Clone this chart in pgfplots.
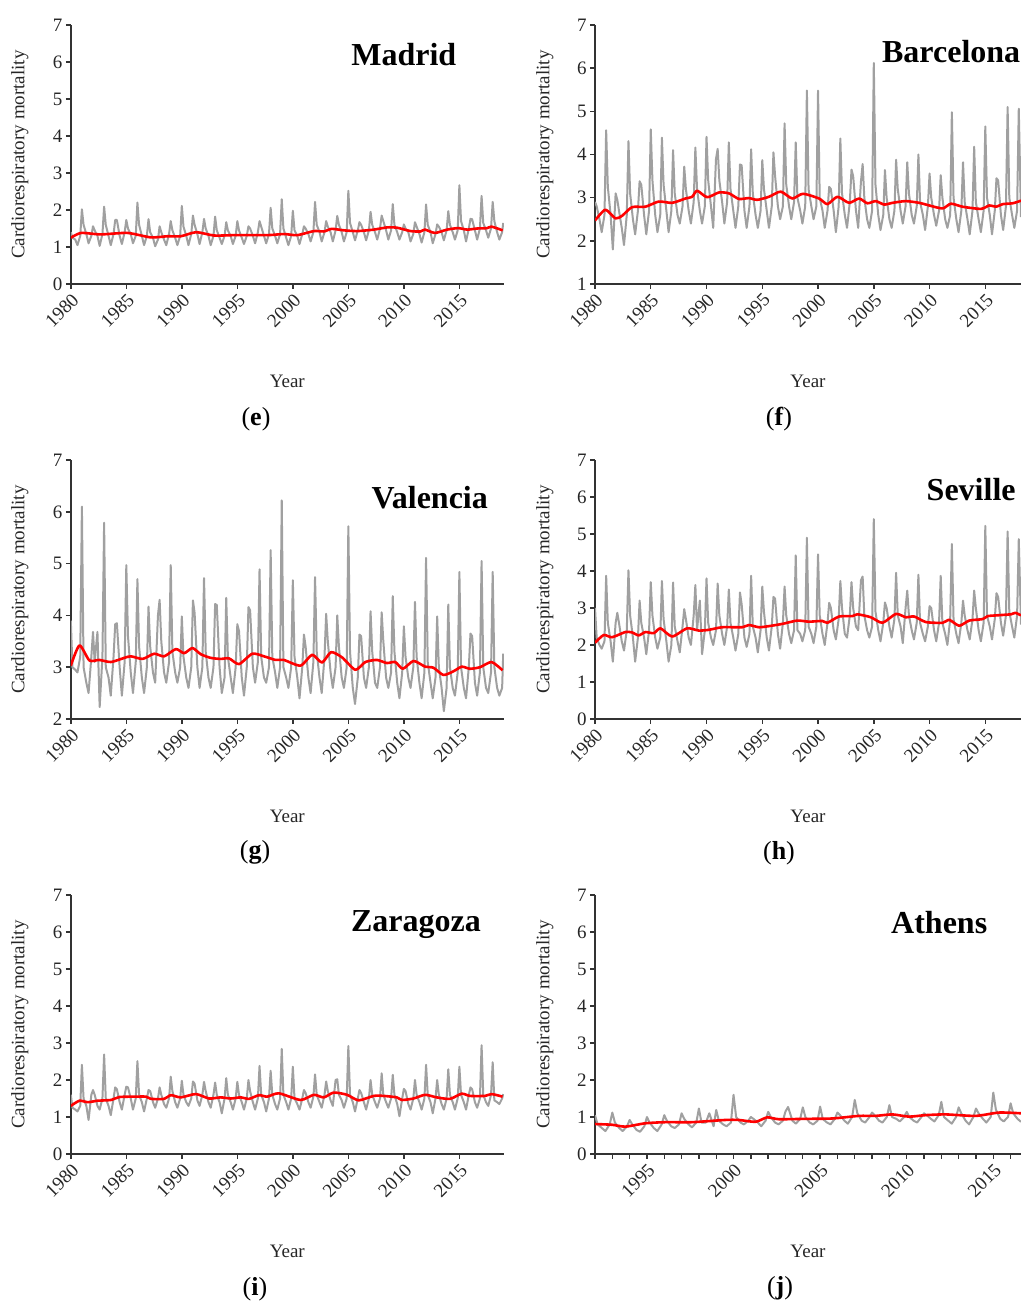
\documentclass[border=0pt]{standalone}
\usepackage{fontspec}
\setmainfont{Liberation Serif}
\usepackage{pgfplots}
\pgfplotsset{compat=1.18}
\definecolor{serie}{HTML}{A0A0A0}
\definecolor{trend}{HTML}{FF0000}
\definecolor{axc}{HTML}{333333}

\pgfplotsset{
  panel/.style={
    scale only axis, height=129.5pt,
    axis x line*=bottom, axis y line*=left,
    axis line style={axc, line width=0.8pt},
    tick style={axc, line width=0.7pt},
    tick align=outside, major tick length=2.5pt, minor tick length=2.5pt,
    ymax=7, xtick={1980,1985,...,2015},
    /pgf/number format/1000 sep={},
    /pgf/number format/assume math mode=true,
    tick label style={font=\fontsize{9.5}{10}\selectfont, text=black!85},
    x tick label style={rotate=45, anchor=north east, inner sep=1pt},
    y tick label style={inner sep=1.5pt},
    xlabel={Year}, ylabel={Cardiorespiratory mortality},
    label style={font=\fontsize{9.5}{10}\selectfont, text=black!85},
    xlabel style={at={(axis description cs:0.5,-0.40)}, anchor=base},
    ylabel style={at={(axis description cs:-0.118,0.5)}, anchor=center},
    clip mode=individual,
  },
  grayline/.style={serie, line width=1pt, line join=round},
  redline/.style={trend, line width=1.3pt, line join=round, smooth, tension=0.4},
}
\tikzset{city/.style={font=\fontsize{16}{18}\selectfont\bfseries}}

\begin{document}
\begin{tikzpicture}
\useasboundingbox (0pt,0pt) rectangle (510.5pt,651pt);

% (e) Madrid
\begin{axis}[panel, at={(35.4pt,509pt)}, anchor=south west, width=216.5pt,
  xmin=1980, xmax=2019, ymin=0, ytick={0,...,7}]
\addplot[grayline] coordinates {
(1980,1.40)(1980.15,1.25)(1980.4,1.2)(1980.6,1.05)(1980.85,1.3)
(1981,2.02)(1981.15,1.6)(1981.4,1.35)(1981.6,1.1)(1981.85,1.3)
(1982,1.56)(1982.15,1.45)(1982.4,1.3)(1982.6,1.03)(1982.85,1.35)
(1983,2.09)(1983.15,1.6)(1983.4,1.3)(1983.6,1.05)(1983.85,1.35)
(1984,1.73)(1984.15,1.73)(1984.4,1.3)(1984.6,1.08)(1984.85,1.4)
(1985,1.73)(1985.15,1.5)(1985.4,1.35)(1985.6,1.1)(1985.85,1.3)
(1986,2.2)(1986.15,1.6)(1986.4,1.3)(1986.6,1.05)(1986.85,1.3)
(1987,1.75)(1987.15,1.4)(1987.4,1.25)(1987.6,1.02)(1987.85,1.2)
(1988,1.56)(1988.15,1.4)(1988.4,1.2)(1988.6,1.05)(1988.85,1.35)
(1989,1.7)(1989.15,1.45)(1989.4,1.25)(1989.6,1.05)(1989.85,1.3)
(1990,2.11)(1990.15,1.55)(1990.4,1.3)(1990.6,1.05)(1990.85,1.35)
(1991,1.85)(1991.15,1.6)(1991.4,1.35)(1991.6,1.08)(1991.85,1.4)
(1992,1.76)(1992.15,1.5)(1992.4,1.3)(1992.6,1.05)(1992.85,1.3)
(1993,1.82)(1993.15,1.45)(1993.4,1.25)(1993.6,1.08)(1993.85,1.3)
(1994,1.67)(1994.15,1.45)(1994.4,1.3)(1994.6,1.08)(1994.85,1.3)
(1995,1.7)(1995.15,1.45)(1995.4,1.25)(1995.6,1.08)(1995.85,1.3)
(1996,1.56)(1996.15,1.5)(1996.4,1.3)(1996.6,1.1)(1996.85,1.4)
(1997,1.7)(1997.15,1.55)(1997.4,1.3)(1997.6,1.1)(1997.85,1.35)
(1998,2.06)(1998.15,1.5)(1998.4,1.3)(1998.6,1.1)(1998.85,1.35)
(1999,2.29)(1999.15,1.5)(1999.4,1.25)(1999.6,1.05)(1999.85,1.3)
(2000,1.98)(2000.15,1.45)(2000.4,1.3)(2000.6,1.08)(2000.85,1.35)
(2001,1.56)(2001.15,1.5)(2001.4,1.35)(2001.6,1.15)(2001.85,1.4)
(2002,2.22)(2002.15,1.6)(2002.4,1.4)(2002.6,1.15)(2002.85,1.4)
(2003,1.7)(2003.15,1.55)(2003.4,1.4)(2003.6,1.15)(2003.85,1.45)
(2004,1.84)(2004.15,1.6)(2004.4,1.4)(2004.6,1.15)(2004.85,1.4)
(2005,2.52)(2005.15,1.65)(2005.4,1.4)(2005.6,1.18)(2005.85,1.45)
(2006,1.67)(2006.15,1.6)(2006.4,1.4)(2006.6,1.18)(2006.85,1.45)
(2007,1.95)(2007.15,1.6)(2007.4,1.4)(2007.6,1.2)(2007.85,1.5)
(2008,1.85)(2008.15,1.7)(2008.4,1.45)(2008.6,1.2)(2008.85,1.45)
(2009,2.16)(2009.15,1.6)(2009.4,1.4)(2009.6,1.2)(2009.85,1.4)
(2010,1.61)(2010.15,1.5)(2010.4,1.4)(2010.6,1.15)(2010.85,1.35)
(2011,1.67)(2011.15,1.55)(2011.4,1.35)(2011.6,1.12)(2011.85,1.4)
(2012,2.15)(2012.15,1.6)(2012.4,1.4)(2012.6,1.1)(2012.85,1.35)
(2013,1.61)(2013.15,1.55)(2013.4,1.4)(2013.6,1.18)(2013.85,1.45)
(2014,1.97)(2014.15,1.6)(2014.4,1.4)(2014.6,1.2)(2014.85,1.45)
(2015,2.67)(2015.15,1.7)(2015.4,1.45)(2015.6,1.15)(2015.85,1.5)
(2016,1.76)(2016.15,1.75)(2016.4,1.45)(2016.6,1.2)(2016.85,1.5)
(2017,2.38)(2017.15,1.65)(2017.4,1.45)(2017.6,1.25)(2017.85,1.5)
(2018,2.22)(2018.15,1.7)(2018.4,1.4)(2018.6,1.2)(2018.85,1.4)(2018.95,1.65)
};
\addplot[redline] coordinates {
(1980,1.25)(1980.93,1.38)(1982.7,1.34)(1985.1,1.38)(1987.2,1.26)(1988.7,1.29)
(1989.9,1.29)(1991.3,1.4)(1992.9,1.31)(1994.7,1.32)(1997.7,1.32)(1999.2,1.35)
(2000.4,1.32)(2001.9,1.43)(2002.8,1.42)(2003.5,1.49)(2004.6,1.45)(2005.8,1.43)
(2007.3,1.47)(2008.5,1.53)(2009.4,1.52)(2010.6,1.43)(2011.5,1.42)(2011.9,1.47)
(2012.8,1.38)(2013.9,1.47)(2014.9,1.51)(2015.7,1.47)(2016.6,1.5)(2017.5,1.51)
(2017.9,1.55)(2018.9,1.45)
};
\node[city] at (rel axis cs:0.769,0.884) {Madrid};
\end{axis}

% (f) Barcelona
\begin{axis}[panel, at={(297.5pt,509pt)}, anchor=south west, width=213pt,
  xmin=1980, xmax=2018.2, ymin=1, ytick={1,...,7}]
\addplot[grayline] coordinates {
(1980,2.9)(1980.15,2.8)(1980.4,2.5)(1980.6,2.2)(1980.85,2.6)
(1981,4.56)(1981.15,3.25)(1981.4,2.6)(1981.6,1.8)(1981.85,3.1)
(1982,2.95)(1982.15,2.7)(1982.4,2.3)(1982.6,1.9)(1982.85,2.6)
(1983,4.31)(1983.15,3.1)(1983.4,2.5)(1983.6,2.15)(1983.85,2.7)
(1984,3.38)(1984.15,3.3)(1984.4,2.6)(1984.6,2.15)(1984.85,2.7)
(1985,4.58)(1985.15,3.4)(1985.4,2.6)(1985.6,2.2)(1985.85,2.6)
(1986,4.39)(1986.15,3.3)(1986.4,2.7)(1986.6,2.2)(1986.85,2.7)
(1987,4.1)(1987.15,3.1)(1987.4,2.6)(1987.6,2.4)(1987.85,2.8)
(1988,3.72)(1988.15,3.2)(1988.4,2.7)(1988.6,2.4)(1988.85,2.9)
(1989,4.16)(1989.15,3.2)(1989.4,2.7)(1989.6,2.4)(1989.85,2.8)
(1990,4.41)(1990.15,3.4)(1990.4,2.8)(1990.6,2.3)(1990.85,3.9)
(1991,4.13)(1991.15,3.4)(1991.4,2.9)(1991.6,2.4)(1991.85,2.9)
(1992,4.28)(1992.15,3.2)(1992.4,2.7)(1992.6,2.3)(1992.85,2.8)
(1993,3.77)(1993.15,3.75)(1993.4,2.7)(1993.6,2.3)(1993.85,2.8)
(1994,4.12)(1994.15,3.1)(1994.4,2.6)(1994.6,2.3)(1994.85,2.7)
(1995,3.87)(1995.15,3.2)(1995.4,2.7)(1995.6,2.3)(1995.85,2.8)
(1996,4.05)(1996.15,3.5)(1996.4,2.8)(1996.6,2.5)(1996.85,2.8)
(1997,4.72)(1997.15,3.3)(1997.4,2.8)(1997.6,2.5)(1997.85,2.9)
(1998,4.28)(1998.15,3.0)(1998.4,2.7)(1998.6,2.4)(1998.85,2.8)
(1999,5.48)(1999.15,3.2)(1999.4,2.8)(1999.6,2.5)(1999.85,2.8)
(2000,5.48)(2000.15,3.0)(2000.4,2.7)(2000.6,2.3)(2000.85,2.7)
(2001,3.25)(2001.15,3.2)(2001.4,2.7)(2001.6,2.2)(2001.85,2.8)
(2002,4.37)(2002.15,3.1)(2002.4,2.6)(2002.6,2.3)(2002.85,2.9)
(2003,3.65)(2003.15,3.5)(2003.4,2.7)(2003.6,2.3)(2003.85,3.38)
(2004,3.78)(2004.15,3.0)(2004.4,2.5)(2004.6,2.3)(2004.85,2.7)
(2005,6.12)(2005.15,3.3)(2005.4,2.6)(2005.6,2.25)(2005.85,2.6)
(2006,3.64)(2006.15,3.0)(2006.4,2.5)(2006.6,2.3)(2006.85,2.7)
(2007,3.88)(2007.15,3.2)(2007.4,2.7)(2007.6,2.4)(2007.85,2.8)
(2008,3.82)(2008.15,3.1)(2008.4,2.6)(2008.6,2.4)(2008.85,2.8)
(2009,4.0)(2009.15,2.9)(2009.4,2.6)(2009.6,2.25)(2009.85,2.8)
(2010,3.56)(2010.15,3.0)(2010.4,2.6)(2010.6,2.35)(2010.85,2.7)
(2011,3.52)(2011.15,3.0)(2011.4,2.5)(2011.6,2.3)(2011.85,2.6)
(2012,4.98)(2012.15,3.0)(2012.4,2.5)(2012.6,2.2)(2012.85,2.7)
(2013,3.82)(2013.15,2.9)(2013.4,2.5)(2013.6,2.15)(2013.85,2.7)
(2014,4.18)(2014.15,2.9)(2014.4,2.5)(2014.6,2.2)(2014.85,2.7)
(2015,4.65)(2015.15,3.0)(2015.4,2.6)(2015.6,2.15)(2015.85,2.7)
(2016,3.45)(2016.15,3.4)(2016.4,2.6)(2016.6,2.25)(2016.85,2.8)
(2017,5.1)(2017.15,3.0)(2017.4,2.6)(2017.6,2.3)(2017.85,2.7)
(2018,5.06)(2018.2,2.55)
};
\addplot[redline] coordinates {
(1980,2.47)(1980.93,2.72)(1981.83,2.52)(1982.43,2.58)(1983.32,2.78)(1984.52,2.79)
(1985.72,2.91)(1986.92,2.88)(1988.11,2.98)(1988.71,3.02)(1989.16,3.16)(1990.06,3.01)
(1991.11,3.12)(1992.01,3.1)(1992.9,2.97)(1993.8,2.99)(1994.55,2.95)(1995.6,3.02)
(1996.65,3.14)(1997.69,2.98)(1998.65,3.09)(2000.09,2.98)(2000.84,2.85)(2001.74,3.02)
(2002.78,2.88)(2003.68,2.98)(2004.43,2.87)(2005.18,2.92)(2005.93,2.84)(2006.68,2.88)
(2007.87,2.92)(2009.07,2.88)(2009.97,2.82)(2011.17,2.75)(2011.92,2.86)(2012.96,2.79)
(2014.61,2.74)(2015.36,2.82)(2015.96,2.79)(2016.56,2.85)(2017.46,2.87)(2018.2,2.93)
};
\node[city] at (rel axis cs:0.836,0.896) {Barcelona};
\end{axis}

% (g) Valencia
\begin{axis}[panel, at={(35.4pt,291.5pt)}, anchor=south west, width=216.5pt,
  xmin=1980, xmax=2019, ymin=2, ytick={2,...,7}]
\addplot[grayline] coordinates {
(1980,3.9)(1980.15,3.0)(1980.4,2.95)(1980.6,2.9)(1980.85,3.2)
(1981,6.1)(1981.15,3.0)(1981.4,2.7)(1981.6,2.5)(1981.85,3.2)
(1982,3.68)(1982.15,3.1)(1982.4,3.68)(1982.6,2.23)(1982.85,3.2)
(1983,5.79)(1983.15,3.0)(1983.4,2.8)(1983.6,2.45)(1983.85,3.2)
(1984,3.83)(1984.15,3.85)(1984.4,3.0)(1984.6,2.45)(1984.85,3.1)
(1985,4.97)(1985.15,3.6)(1985.4,2.9)(1985.6,2.5)(1985.85,3.1)
(1986,4.7)(1986.15,3.4)(1986.4,2.8)(1986.6,2.5)(1986.85,3.0)
(1987,4.17)(1987.15,3.4)(1987.4,2.9)(1987.6,2.7)(1987.85,4.0)
(1988,4.3)(1988.15,3.5)(1988.4,2.9)(1988.6,2.7)(1988.85,3.1)
(1989,4.97)(1989.15,3.3)(1989.4,2.9)(1989.6,2.7)(1989.85,3.0)
(1990,3.98)(1990.15,3.2)(1990.4,2.8)(1990.6,2.6)(1990.85,3.0)
(1991,4.29)(1991.15,4.05)(1991.4,3.0)(1991.6,2.6)(1991.85,3.0)
(1992,4.72)(1992.15,3.3)(1992.4,2.8)(1992.6,2.6)(1992.85,3.0)
(1993,4.22)(1993.15,4.2)(1993.4,3.0)(1993.6,2.5)(1993.85,2.8)
(1994,4.34)(1994.15,3.2)(1994.4,2.8)(1994.6,2.5)(1994.85,3.0)
(1995,3.83)(1995.15,3.7)(1995.4,2.8)(1995.6,2.45)(1995.85,3.0)
(1996,4.16)(1996.15,4.1)(1996.4,3.0)(1996.6,2.7)(1996.85,3.1)
(1997,4.89)(1997.15,3.2)(1997.4,2.8)(1997.6,2.7)(1997.85,3.0)
(1998,5.26)(1998.15,3.2)(1998.4,2.9)(1998.6,2.6)(1998.85,3.0)
(1999,6.22)(1999.15,3.0)(1999.4,2.8)(1999.6,2.6)(1999.85,3.0)
(2000,4.68)(2000.15,3.2)(2000.4,2.8)(2000.6,2.4)(2000.85,3.0)
(2001,3.63)(2001.15,3.4)(2001.4,2.8)(2001.6,2.5)(2001.85,3.1)
(2002,4.74)(2002.15,3.3)(2002.4,2.8)(2002.6,2.5)(2002.85,3.2)
(2003,4.03)(2003.15,3.5)(2003.4,2.9)(2003.6,2.6)(2003.85,3.0)
(2004,4.0)(2004.15,3.4)(2004.4,2.8)(2004.6,2.6)(2004.85,3.0)
(2005,5.72)(2005.15,3.3)(2005.4,2.6)(2005.6,2.29)(2005.85,2.8)
(2006,3.63)(2006.15,3.6)(2006.4,2.8)(2006.6,2.6)(2006.85,3.0)
(2007,4.08)(2007.15,3.3)(2007.4,2.7)(2007.6,2.6)(2007.85,3.0)
(2008,4.06)(2008.15,3.5)(2008.4,2.8)(2008.6,2.6)(2008.85,2.9)
(2009,4.37)(2009.15,3.3)(2009.4,2.7)(2009.6,2.4)(2009.85,2.9)
(2010,3.79)(2010.15,3.2)(2010.4,2.8)(2010.6,2.6)(2010.85,3.0)
(2011,4.26)(2011.15,3.2)(2011.4,2.7)(2011.6,2.4)(2011.85,2.9)
(2012,5.11)(2012.15,3.1)(2012.4,2.7)(2012.6,2.4)(2012.85,2.8)
(2013,3.98)(2013.15,3.0)(2013.4,2.6)(2013.6,2.15)(2013.85,2.6)
(2014,4.21)(2014.15,3.0)(2014.4,2.6)(2014.6,2.45)(2014.85,2.9)
(2015,4.84)(2015.15,3.0)(2015.4,2.6)(2015.6,2.4)(2015.85,3.0)
(2016,3.65)(2016.15,3.6)(2016.4,2.7)(2016.6,2.45)(2016.85,2.9)
(2017,5.05)(2017.15,3.0)(2017.4,2.6)(2017.6,2.5)(2017.85,2.9)
(2018,4.84)(2018.15,3.0)(2018.4,2.6)(2018.6,2.45)(2018.85,2.6)(2018.95,3.26)
};
\addplot[redline] coordinates {
(1980,3.03)(1980.78,3.42)(1981.68,3.13)(1982.57,3.14)(1983.62,3.1)(1984.82,3.18)
(1985.42,3.21)(1986.47,3.16)(1987.51,3.26)(1988.41,3.21)(1989.46,3.35)(1990.21,3.27)
(1990.96,3.37)(1991.71,3.25)(1992.6,3.18)(1993.5,3.16)(1994.25,3.17)(1995.15,3.06)
(1996.35,3.26)(1997.4,3.21)(1998.44,3.14)(1999.19,3.14)(2000.69,3.03)(2001.74,3.24)
(2002.63,3.09)(2003.44,3.29)(2004.43,3.19)(2005.63,2.95)(2006.53,3.1)(2007.57,3.14)
(2008.47,3.08)(2009.22,3.1)(2009.91,2.97)(2010.87,3.12)(2011.92,3.01)(2012.66,2.99)
(2013.56,2.85)(2014.46,2.92)(2015.21,3.01)(2015.96,2.97)(2016.86,3.0)(2017.9,3.1)
(2018.89,2.94)
};
\node[city] at (rel axis cs:0.829,0.853) {Valencia};
\end{axis}

% (h) Seville
\begin{axis}[panel, at={(297.5pt,291.5pt)}, anchor=south west, width=213pt,
  xmin=1980, xmax=2018.2, ymin=0, ytick={0,...,7}]
\addplot[grayline] coordinates {
(1980,3.0)(1980.15,2.2)(1980.4,2.0)(1980.6,1.9)(1980.85,2.1)
(1981,3.87)(1981.15,2.6)(1981.4,2.1)(1981.6,1.55)(1981.85,2.6)
(1982,2.87)(1982.15,2.6)(1982.4,2.1)(1982.6,1.85)(1982.85,2.4)
(1983,4.02)(1983.15,2.8)(1983.4,2.2)(1983.6,1.55)(1983.85,2.2)
(1984,3.2)(1984.15,2.6)(1984.4,2.2)(1984.6,1.75)(1984.85,2.4)
(1985,3.7)(1985.15,2.8)(1985.4,2.2)(1985.6,1.9)(1985.85,2.2)
(1986,3.73)(1986.15,2.7)(1986.4,2.1)(1986.6,1.55)(1986.85,2.0)
(1987,3.69)(1987.15,2.5)(1987.4,2.1)(1987.6,1.8)(1987.85,2.5)
(1988,2.97)(1988.15,2.7)(1988.4,2.2)(1988.6,2.0)(1988.85,2.8)
(1989,3.62)(1989.15,2.4)(1989.4,3.2)(1989.6,1.75)(1989.85,2.4)
(1990,3.8)(1990.15,2.6)(1990.4,2.2)(1990.6,2.0)(1990.85,2.4)
(1991,3.66)(1991.15,2.8)(1991.4,2.3)(1991.6,2.0)(1991.85,2.5)
(1992,3.5)(1992.15,2.6)(1992.4,2.2)(1992.6,1.85)(1992.85,2.3)
(1993,3.42)(1993.15,3.1)(1993.4,2.2)(1993.6,1.95)(1993.85,2.3)
(1994,3.87)(1994.15,2.5)(1994.4,2.2)(1994.6,1.8)(1994.85,2.4)
(1995,3.58)(1995.15,2.9)(1995.4,2.2)(1995.6,1.85)(1995.85,2.5)
(1996,3.3)(1996.15,3.25)(1996.4,2.3)(1996.6,1.9)(1996.85,2.6)
(1997,3.58)(1997.15,2.8)(1997.4,2.3)(1997.6,2.05)(1997.85,2.4)
(1998,4.42)(1998.15,2.4)(1998.4,2.3)(1998.6,2.1)(1998.85,2.4)
(1999,4.9)(1999.15,2.5)(1999.4,2.3)(1999.6,2.05)(1999.85,2.5)
(2000,4.45)(2000.15,2.8)(2000.4,2.3)(2000.6,2.0)(2000.85,2.6)
(2001,3.14)(2001.15,3.0)(2001.4,2.4)(2001.6,2.15)(2001.85,2.7)
(2002,3.73)(2002.15,3.0)(2002.4,2.3)(2002.6,2.2)(2002.85,2.8)
(2003,3.7)(2003.15,3.0)(2003.4,2.5)(2003.6,2.4)(2003.85,3.75)
(2004,3.85)(2004.15,2.8)(2004.4,2.4)(2004.6,2.2)(2004.85,2.5)
(2005,5.4)(2005.15,2.9)(2005.4,2.4)(2005.6,2.1)(2005.85,2.6)
(2006,3.15)(2006.15,3.0)(2006.4,2.5)(2006.6,2.2)(2006.85,2.7)
(2007,3.95)(2007.15,2.8)(2007.4,2.5)(2007.6,2.05)(2007.85,3.0)
(2008,3.47)(2008.15,2.8)(2008.4,2.4)(2008.6,2.15)(2008.85,2.6)
(2009,3.9)(2009.15,2.6)(2009.4,2.3)(2009.6,2.1)(2009.85,2.5)
(2010,3.05)(2010.15,3.0)(2010.4,2.4)(2010.6,2.1)(2010.85,2.6)
(2011,3.87)(2011.15,2.6)(2011.4,2.3)(2011.6,2.0)(2011.85,2.7)
(2012,4.73)(2012.15,2.7)(2012.4,2.3)(2012.6,2.05)(2012.85,2.6)
(2013,3.2)(2013.15,2.8)(2013.4,2.4)(2013.6,2.15)(2013.85,2.7)
(2014,3.47)(2014.15,3.0)(2014.4,2.4)(2014.6,2.1)(2014.85,2.6)
(2015,5.22)(2015.15,2.8)(2015.4,2.5)(2015.6,2.15)(2015.85,2.7)
(2016,3.4)(2016.15,3.3)(2016.4,2.6)(2016.6,2.25)(2016.85,2.8)
(2017,5.07)(2017.15,2.9)(2017.4,2.5)(2017.6,2.2)(2017.85,2.8)
(2018,4.86)(2018.2,2.55)
};
\addplot[redline] coordinates {
(1980,2.06)(1980.78,2.27)(1981.53,2.21)(1982.72,2.35)(1983.32,2.34)(1983.92,2.26)
(1984.52,2.35)(1985.27,2.32)(1985.87,2.45)(1986.92,2.23)(1988.26,2.45)(1989.31,2.39)
(1990.21,2.41)(1991.41,2.48)(1993.2,2.48)(1993.8,2.54)(1994.7,2.48)(1995.6,2.51)
(1996.8,2.57)(1998.14,2.66)(1999.19,2.63)(2000.39,2.65)(2000.84,2.6)(2001.89,2.77)
(2003.08,2.78)(2003.53,2.83)(2004.73,2.75)(2005.78,2.6)(2006.98,2.84)(2007.87,2.75)
(2008.62,2.77)(2009.67,2.62)(2011.17,2.6)(2011.77,2.68)(2012.66,2.52)(2013.56,2.66)
(2014.76,2.7)(2015.21,2.78)(2015.96,2.8)(2017.31,2.83)(2017.69,2.87)(2018.2,2.8)
};
\node[city] at (rel axis cs:0.883,0.884) {Seville};
\end{axis}

% (i) Zaragoza
\begin{axis}[panel, at={(35.4pt,74pt)}, anchor=south west, width=216.5pt,
  xmin=1980, xmax=2019, ymin=0, ytick={0,...,7}]
\addplot[grayline] coordinates {
(1980,1.6)(1980.15,1.25)(1980.4,1.2)(1980.6,1.15)(1980.85,1.3)
(1981,2.41)(1981.15,1.5)(1981.4,1.3)(1981.6,0.92)(1981.85,1.6)
(1982,1.73)(1982.15,1.6)(1982.4,1.3)(1982.6,1.2)(1982.85,1.5)
(1983,2.69)(1983.15,1.5)(1983.4,1.3)(1983.6,1.05)(1983.85,1.5)
(1984,1.8)(1984.15,1.75)(1984.4,1.4)(1984.6,1.2)(1984.85,1.6)
(1985,1.82)(1985.15,1.8)(1985.4,1.5)(1985.6,1.2)(1985.85,1.5)
(1986,2.51)(1986.15,1.6)(1986.4,1.4)(1986.6,1.15)(1986.85,1.5)
(1987,1.73)(1987.15,1.7)(1987.4,1.4)(1987.6,1.25)(1987.85,1.5)
(1988,1.8)(1988.15,1.6)(1988.4,1.35)(1988.6,1.25)(1988.85,1.5)
(1989,2.09)(1989.15,1.7)(1989.4,1.4)(1989.6,1.25)(1989.85,1.5)
(1990,1.98)(1990.15,1.6)(1990.4,1.4)(1990.6,1.3)(1990.85,1.5)
(1991,1.96)(1991.15,1.9)(1991.4,1.45)(1991.6,1.3)(1991.85,1.6)
(1992,1.95)(1992.15,1.7)(1992.4,1.4)(1992.6,1.25)(1992.85,1.6)
(1993,1.93)(1993.15,1.6)(1993.4,1.4)(1993.6,1.1)(1993.85,1.5)
(1994,2.05)(1994.15,1.6)(1994.4,1.4)(1994.6,1.2)(1994.85,1.5)
(1995,1.95)(1995.15,1.6)(1995.4,1.4)(1995.6,1.2)(1995.85,1.5)
(1996,2.0)(1996.15,1.7)(1996.4,1.4)(1996.6,1.2)(1996.85,1.5)
(1997,2.38)(1997.15,1.6)(1997.4,1.4)(1997.6,1.15)(1997.85,1.5)
(1998,2.25)(1998.15,1.6)(1998.4,1.35)(1998.6,1.2)(1998.85,1.5)
(1999,2.84)(1999.15,1.6)(1999.4,1.4)(1999.6,1.2)(1999.85,1.5)
(2000,2.36)(2000.15,1.5)(2000.4,1.35)(2000.6,1.2)(2000.85,1.5)
(2001,1.73)(2001.15,1.65)(2001.4,1.4)(2001.6,1.25)(2001.85,1.55)
(2002,2.15)(2002.15,1.6)(2002.4,1.4)(2002.6,1.25)(2002.85,1.6)
(2003,1.96)(2003.15,1.7)(2003.4,1.45)(2003.6,1.3)(2003.85,2.0)
(2004,2.02)(2004.15,1.6)(2004.4,1.45)(2004.6,1.25)(2004.85,1.5)
(2005,2.92)(2005.15,1.6)(2005.4,1.4)(2005.6,1.15)(2005.85,1.5)
(2006,1.73)(2006.15,1.65)(2006.4,1.4)(2006.6,1.2)(2006.85,1.5)
(2007,2.0)(2007.15,1.6)(2007.4,1.4)(2007.6,1.25)(2007.85,1.5)
(2008,2.18)(2008.15,1.6)(2008.4,1.4)(2008.6,1.25)(2008.85,1.5)
(2009,2.14)(2009.15,1.6)(2009.4,1.35)(2009.6,1.02)(2009.85,1.5)
(2010,1.76)(2010.15,1.7)(2010.4,1.35)(2010.6,1.2)(2010.85,1.5)
(2011,2.0)(2011.15,1.6)(2011.4,1.4)(2011.6,1.2)(2011.85,1.5)
(2012,2.41)(2012.15,1.6)(2012.4,1.4)(2012.6,1.1)(2012.85,1.5)
(2013,2.0)(2013.15,1.6)(2013.4,1.35)(2013.6,1.2)(2013.85,1.5)
(2014,2.29)(2014.15,1.6)(2014.4,1.4)(2014.6,1.2)(2014.85,1.5)
(2015,2.36)(2015.15,1.6)(2015.4,1.4)(2015.6,1.2)(2015.85,1.6)
(2016,1.8)(2016.15,1.75)(2016.4,1.4)(2016.6,1.25)(2016.85,1.5)
(2017,2.94)(2017.15,1.6)(2017.4,1.4)(2017.6,1.3)(2017.85,1.6)
(2018,2.48)(2018.15,1.45)(2018.4,1.4)(2018.6,1.35)(2018.85,1.5)(2018.95,1.62)
};
\addplot[redline] coordinates {
(1980,1.3)(1980.78,1.44)(1981.53,1.4)(1982.43,1.44)(1983.62,1.46)(1984.37,1.54)
(1985.72,1.55)(1986.77,1.55)(1987.22,1.49)(1988.41,1.49)(1989.01,1.59)(1989.91,1.53)
(1991.26,1.62)(1992.46,1.5)(1993.5,1.53)(1994.4,1.5)(1995.3,1.53)(1996.05,1.49)
(1996.95,1.59)(1997.69,1.55)(1998.74,1.64)(2000.69,1.46)(2001.89,1.6)(2002.78,1.53)
(2003.68,1.66)(2004.88,1.6)(2005.93,1.45)(2007.28,1.57)(2008.17,1.57)(2009.37,1.53)
(2009.82,1.46)(2010.87,1.5)(2011.92,1.6)(2012.96,1.53)(2014.16,1.49)(2015.21,1.63)
(2015.96,1.57)(2017.31,1.57)(2017.9,1.62)(2018.89,1.55)
};
\node[city] at (rel axis cs:0.797,0.884) {Zaragoza};
\end{axis}

% (j) Athens
\begin{axis}[panel, at={(297.5pt,74pt)}, anchor=south west, width=213pt,
  xmin=1992, xmax=2016.6, ymin=0, ytick={0,...,7},
  xtick={1995,2000,...,2015}, minor xtick={1992,...,2016}]
\addplot[grayline] coordinates {
(1992,1.05)(1992.15,0.8)(1992.4,0.7)(1992.6,0.62)(1992.85,0.8)
(1993,1.12)(1993.15,0.85)(1993.4,0.7)(1993.6,0.62)(1993.85,0.75)
(1994,0.92)(1994.15,0.8)(1994.4,0.65)(1994.6,0.6)(1994.85,0.75)
(1995,1.0)(1995.15,0.85)(1995.4,0.7)(1995.6,0.62)(1995.85,0.8)
(1996,1.05)(1996.15,0.9)(1996.4,0.75)(1996.6,0.7)(1996.85,0.8)
(1997,1.1)(1997.15,0.95)(1997.4,0.8)(1997.6,0.72)(1997.85,0.85)
(1998,1.23)(1998.15,0.85)(1998.4,0.85)(1998.6,1.1)(1998.85,0.75)
(1999,1.19)(1999.15,0.9)(1999.4,0.8)(1999.6,0.75)(1999.85,0.85)
(2000,1.6)(2000.15,1.0)(2000.4,0.85)(2000.6,0.8)(2000.85,0.9)
(2001,1.0)(2001.15,0.95)(2001.4,0.85)(2001.6,0.75)(2001.85,0.9)
(2002,1.14)(2002.15,1.0)(2002.4,0.85)(2002.6,0.8)(2002.85,0.9)
(2003,1.15)(2003.15,1.27)(2003.4,0.9)(2003.6,0.82)(2003.85,0.95)
(2004,1.26)(2004.15,1.0)(2004.4,0.85)(2004.6,0.8)(2004.85,0.9)
(2005,1.28)(2005.15,0.95)(2005.4,0.85)(2005.6,0.8)(2005.85,0.95)
(2006,1.12)(2006.15,1.05)(2006.4,0.9)(2006.6,0.82)(2006.85,1.0)
(2007,1.46)(2007.15,1.1)(2007.4,0.9)(2007.6,0.85)(2007.85,1.0)
(2008,1.12)(2008.15,1.05)(2008.4,0.9)(2008.6,0.85)(2008.85,1.0)
(2009,1.32)(2009.15,1.0)(2009.4,0.95)(2009.6,0.88)(2009.85,1.0)
(2010,1.14)(2010.15,1.0)(2010.4,0.9)(2010.6,0.85)(2010.85,1.0)
(2011,1.1)(2011.15,1.05)(2011.4,0.95)(2011.6,0.88)(2011.85,1.05)
(2012,1.41)(2012.15,1.0)(2012.4,0.9)(2012.6,0.82)(2012.85,1.0)
(2013,1.26)(2013.15,1.1)(2013.4,0.9)(2013.6,0.8)(2013.85,1.0)
(2014,1.23)(2014.15,1.1)(2014.4,0.95)(2014.6,0.85)(2014.85,1.0)
(2015,1.66)(2015.15,1.2)(2015.4,0.95)(2015.6,0.88)(2015.85,1.0)
(2016,1.37)(2016.15,1.1)(2016.4,0.95)(2016.6,0.87)
};
\addplot[redline] coordinates {
(1992,0.81)(1992.98,0.79)(1993.75,0.74)(1994.91,0.83)(1996.07,0.86)(1997.61,0.86)
(1999.53,0.92)(2000.3,0.92)(2001.27,0.87)(2001.94,0.99)(2002.62,0.94)(2004.16,0.95)
(2005.7,0.96)(2007.24,1.03)(2008.2,1.03)(2009.17,1.07)(2010.13,1.01)(2011.09,1.05)
(2012.25,1.07)(2013.98,1.03)(2015.33,1.12)(2016.6,1.1)
};
\node[city] at (rel axis cs:0.808,0.892) {Athens};
\end{axis}

% sub-figure letters
\begin{scope}[every node/.style={anchor=base, font=\fontsize{13}{15}\selectfont}]
\node at (128pt,438pt) {(\textbf{e})};
\node at (389.5pt,438pt) {(\textbf{f})};
\node at (127.5pt,221.5pt) {(\textbf{g})};
\node at (389.5pt,221pt) {(\textbf{h})};
\node at (127.5pt,3pt) {(\textbf{i})};
\node at (390pt,4pt) {(\textbf{j})};
\end{scope}
\end{tikzpicture}
\end{document}
